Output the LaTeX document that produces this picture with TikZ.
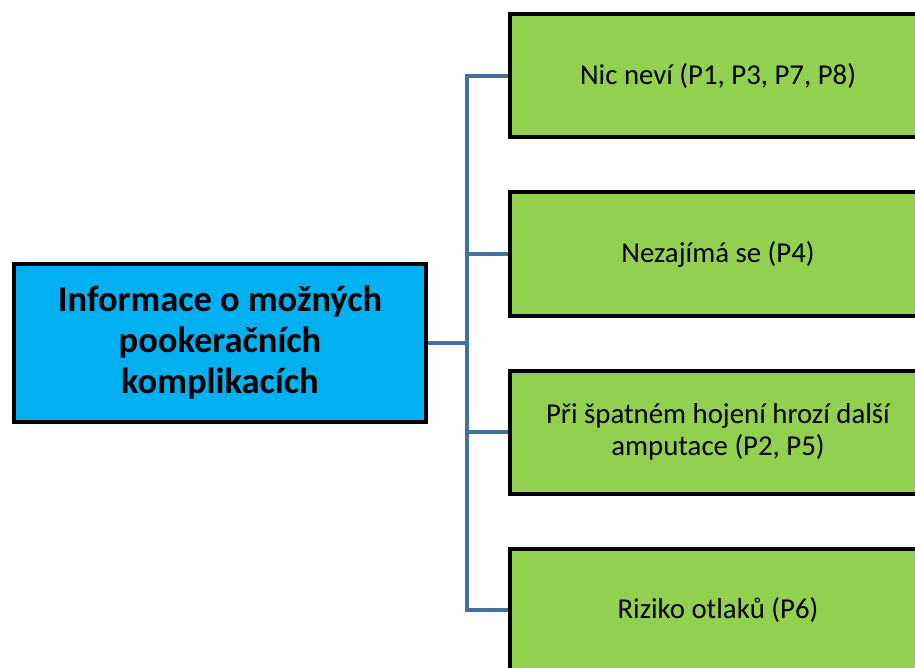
\documentclass[tikz,border=0pt]{standalone}
\usepackage{fontspec}
\setmainfont{Carlito}
\definecolor{topicblue}{HTML}{00B0F0}
\definecolor{leafgreen}{HTML}{92D050}
\definecolor{linkblue}{HTML}{44709D}
\begin{document}
\begin{tikzpicture}[x=1pt,y=-1pt,
  topic/.style={draw=black, line width=4pt, fill=topicblue, rectangle,
    minimum width=412pt, minimum height=158pt, align=center,
    font=\fontsize{36.5}{41}\selectfont\bfseries},
  leaf/.style={draw=black, line width=4pt, fill=leafgreen, rectangle,
    minimum width=416pt, minimum height=123pt, align=center,
    font=\fontsize{28.8}{32.5}\selectfont},
  link/.style={draw=linkblue, line width=3.5pt}]
\useasboundingbox (0,0) rectangle (915,668);
\clip (0,0) rectangle (915,668);
% root topic
\node[topic] (root) at (220,343) {Informace o možných\\pookeračních\\komplikacích};
% answers
\node[leaf] (a) at (718,76)  {Nic neví (P1, P3, P7, P8)};
\node[leaf] (b) at (718,254) {Nezajímá se (P4)};
\node[leaf] (c) at (718,432) {Při špatném hojení hrozí další\\amputace (P2, P5)};
\node[leaf] (d) at (718,610) {Riziko otlaků (P6)};
% bracket connector
\coordinate (trunk) at (467,343);
\draw[link] (root.east) -- (trunk);
\draw[link] (a.west) -| (trunk) |- (d.west);
\draw[link] (trunk |- b.west) -- (b.west);
\draw[link] (trunk |- c.west) -- (c.west);
\end{tikzpicture}
\end{document}
